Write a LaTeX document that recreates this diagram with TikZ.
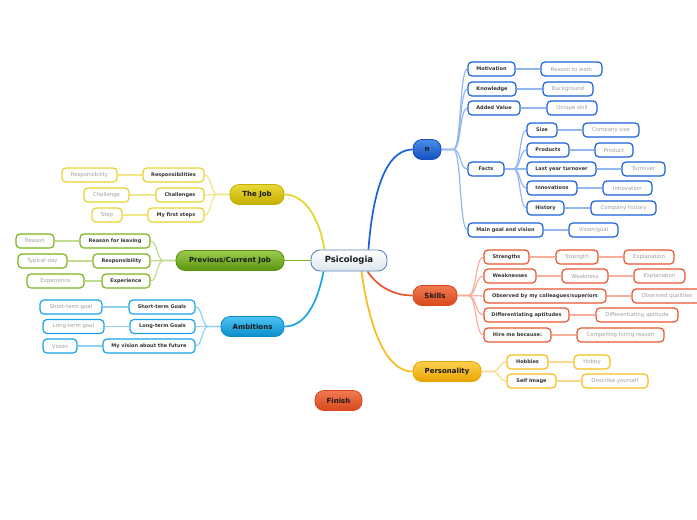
\documentclass[tikz,border=0pt]{standalone}
\usepackage{fontspec}
\setmainfont{DejaVu Sans}
\usetikzlibrary{calc,backgrounds}
\definecolor{txt}{HTML}{333333}
\definecolor{gtxt}{HTML}{A0A0A0}
\definecolor{bl}{HTML}{1A62D8}\definecolor{blc}{HTML}{94B8EE}
\definecolor{rd}{HTML}{E8562E}\definecolor{rdc}{HTML}{F7B09B}
\definecolor{go}{HTML}{F7BD1C}\definecolor{goc}{HTML}{FCD98A}
\definecolor{ye}{HTML}{E6D42C}\definecolor{yec}{HTML}{F0E68C}
\definecolor{gr}{HTML}{7AB51D}\definecolor{grc}{HTML}{C0DC90}
\definecolor{cy}{HTML}{1AA3E8}\definecolor{cyc}{HTML}{90D0F5}
\definecolor{nT}{HTML}{4A8CE8}\definecolor{nB}{HTML}{1550BE}
\definecolor{sT}{HTML}{F07A52}\definecolor{sB}{HTML}{D9481C}
\definecolor{pT}{HTML}{FFD050}\definecolor{pB}{HTML}{E8A400}
\definecolor{jT}{HTML}{E8D838}\definecolor{jB}{HTML}{C4AE00}
\definecolor{cT}{HTML}{9CCC4C}\definecolor{cB}{HTML}{5A9410}
\definecolor{aT}{HTML}{4CC4F4}\definecolor{aB}{HTML}{0C8CCC}
\definecolor{psB}{HTML}{DDE6EE}\definecolor{psD}{HTML}{5B86BD}
\tikzset{
  dk/.style={rectangle, rounded corners=4, line width=1.2, inner sep=0, fill=white, draw=#1,
    minimum height=14, font=\fontsize{5}{5}\selectfont\bfseries, text=txt},
  lt/.style={rectangle, rounded corners=4, line width=1.2, inner sep=0, fill=white, draw=#1,
    minimum height=14, font=\fontsize{5.4}{6}\selectfont, text=gtxt},
  w/.style={minimum width=#1},
  topic/.style 2 args={rectangle, rounded corners=9, inner sep=0, top color=#1, bottom color=#2,
    draw=#2, line width=0.8, minimum height=20, font=\fontsize{7}{8}\selectfont\bfseries, text=black!90},
  cn/.style={draw=#1, line width=1.2},
  mc/.style={draw=#1, line width=1.7},
}
\begin{document}
\begin{tikzpicture}[x=1pt,y=-1pt]
\useasboundingbox (0,0) rectangle (697,520);

% ---------- central ----------
\node[rectangle, rounded corners=9, inner sep=0, top color=white, bottom color=psB,
  draw=psD, line width=0.9, minimum width=76, minimum height=21,
  font=\fontsize{8.5}{9}\selectfont\bfseries, text=black!90] (psi) at (349,260.5) {Psicologia};

% ---------- main topics ----------
\node[topic={nT}{nB}, minimum width=28] (n) at (427,149.5) {n};
\node[topic={sT}{sB}, minimum width=44] (sk) at (435,295.5) {Skills};
\node[topic={pT}{pB}, minimum width=68] (pe) at (447,371.5) {Personality};
\node[topic={sT}{sB}, minimum width=47] (fi) at (338.5,400.5) {Finish};
\node[topic={jT}{jB}, minimum width=54] (tj) at (257,194.5) {The Job};
\node[topic={cT}{cB}, minimum width=108] (pc) at (230,260.5) {Previous/Current Job};
\node[topic={aT}{aB}, minimum width=63] (am) at (252.5,326.5) {Ambitions};

% ---------- n branch ----------
\node[dk=bl, w=47] (mot) at (491.5,69) {Motivation};
\node[lt=bl, w=61] (rtw) at (571.5,69) {Reason to work};
\node[dk=bl, w=48] (kno) at (492,89) {Knowledge};
\node[lt=bl, w=50] (bac) at (568,89) {Background};
\node[dk=bl, w=52] (adv) at (494,108) {Added Value};
\node[lt=bl, w=50] (uni) at (572,108) {Unique skill};
\node[dk=bl, w=36] (fac) at (486,169) {Facts};
\node[dk=bl, w=30] (siz) at (542,130) {Size};
\node[lt=bl, w=56] (csz) at (611,130) {Company size};
\node[dk=bl, w=42] (pro) at (548,150) {Products};
\node[lt=bl, w=38] (prd) at (614,150) {Product};
\node[dk=bl, w=69] (lyt) at (561.5,169) {Last year turnover};
\node[lt=bl, w=43] (tur) at (643.5,169) {Turnover};
\node[dk=bl, w=50] (inn) at (552,188) {Innovations};
\node[lt=bl, w=49] (ino) at (627.5,188) {Innovation};
\node[dk=bl, w=37] (his) at (545.5,208) {History};
\node[lt=bl, w=65] (chi) at (623.5,208) {Company history};
\node[dk=bl, w=75] (mgv) at (505.5,230) {Main goal and vision};
\node[lt=bl, w=49] (vgo) at (593.5,230) {Vision/goal};

% ---------- Skills branch ----------
\node[dk=rd, w=45] (str) at (506.5,257) {Strengths};
\node[lt=rd, w=42] (stg) at (577,257) {Strength};
\node[lt=rd, w=50] (ex1) at (649,257) {Explanation};
\node[dk=rd, w=52] (wea) at (510,276) {Weaknesses};
\node[lt=rd, w=46] (wkn) at (585,276) {Weakness};
\node[lt=rd, w=51] (ex2) at (659.5,276) {Explanation};
\node[dk=rd, w=122] (obs) at (545,296) {Observed by my colleagues/superiors};
\node[lt=rd, w=70] (obq) at (667,296) {Observed qualities};
\node[dk=rd, w=85] (dif) at (526.5,315) {Differentiating aptitudes};
\node[lt=rd, w=82] (dfa) at (637,315) {Differentiating aptitude};
\node[dk=rd, w=67] (hir) at (517.5,335) {Hire me because:};
\node[lt=rd, w=87] (chr) at (620.5,335) {Compelling hiring reason};

% ---------- Personality branch ----------
\node[dk=go, w=41] (hob) at (527.5,362) {Hobbies};
\node[lt=go, w=36] (hby) at (592,362) {Hobby};
\node[dk=go, w=49] (sim) at (531.5,381) {Self Image};
\node[lt=go, w=66] (dsy) at (615,381) {Describe yourself};

% ---------- The Job branch ----------
\node[dk=ye, w=61] (res) at (173.5,175) {Responsibilities};
\node[lt=ye, w=55] (rsp) at (89.5,175) {Responsibility};
\node[dk=ye, w=48] (cha) at (180,195) {Challenges};
\node[lt=ye, w=45] (chl) at (106.5,195) {Challenge};
\node[dk=ye, w=56] (mfs) at (176,215) {My first steps};
\node[lt=ye, w=30] (ste) at (107,215) {Step};

% ---------- Previous branch ----------
\node[dk=gr, w=70] (rfl) at (115,241) {Reason for leaving};
\node[lt=gr, w=38] (rea) at (35,241) {Reason};
\node[dk=gr, w=57] (rpb) at (121.5,261) {Responsibility};
\node[lt=gr, w=49] (tdy) at (42.5,261) {Typical day};
\node[dk=gr, w=48] (exp) at (126,281) {Experience};
\node[lt=gr, w=57] (exg) at (55.5,281) {Experience};

% ---------- Ambitions branch ----------
\node[dk=cy, w=66] (stg2) at (162,307) {Short-term Goals};
\node[lt=cy, w=62] (stl) at (71,307) {Short-term goal};
\node[dk=cy, w=65] (ltg) at (162.5,326.5) {Long-term Goals};
\node[lt=cy, w=61] (ltl) at (73.5,326.5) {Long-term goal};
\node[dk=cy, w=92] (mvf) at (149,346) {My vision about the future};
\node[lt=cy, w=34] (vis) at (60,346) {Vision};

\begin{scope}[on background layer]
\fill[white] (0,0) rectangle (697,520);
% ---------- main connectors ----------
\draw[mc=bl] ([xshift=-19]psi.north east) .. controls (374,175) and (392,149.5) .. (n.west);
\draw[mc=rd] ([xshift=-20]psi.south east) .. controls (380,290) and (398,295.5) .. (sk.west);
\draw[mc=go] ([xshift=-26]psi.south east) .. controls (372,345) and (392,371.5) .. (pe.west);
\draw[mc=ye] ([xshift=14]psi.north west) .. controls (318,212) and (302,194.5) .. (tj.east);
\draw[mc=gr] (psi.west) -- (pc.east);
\draw[mc=cy] ([xshift=13]psi.south west) .. controls (316,310) and (302,326.5) .. (am.east);

% ---------- fans ----------
\foreach \c in {mot,kno,adv,fac,mgv}
  \draw[cn=blc] (n.east) -- ++(12,0) .. controls +(8,0) and +(-8,0) .. (\c.west);
\foreach \c in {siz,pro,lyt,inn,his}
  \draw[cn=blc] (fac.east) -- ++(9,0) .. controls +(7,0) and +(-7,0) .. (\c.west);
\foreach \c in {str,wea,obs,dif,hir}
  \draw[cn=rdc] (sk.east) -- ++(11,0) .. controls +(8,0) and +(-8,0) .. (\c.west);
\foreach \c in {hob,sim}
  \draw[cn=goc] (pe.east) -- ++(11,0) .. controls +(8,0) and +(-8,0) .. (\c.west);
\foreach \c in {res,cha,mfs}
  \draw[cn=yec] (tj.west) -- ++(-12,0) .. controls +(-7,0) and +(7,0) .. (\c.east);
\foreach \c in {rfl,rpb,exp}
  \draw[cn=grc] (pc.west) -- ++(-12,0) .. controls +(-7,0) and +(7,0) .. (\c.east);
\foreach \c in {stg2,ltg,mvf}
  \draw[cn=cyc] (am.west) -- ++(-12,0) .. controls +(-7,0) and +(7,0) .. (\c.east);

% ---------- straight links ----------
\draw[cn=blc] (mot) -- (rtw); \draw[cn=blc] (kno) -- (bac); \draw[cn=blc] (adv) -- (uni);
\draw[cn=blc] (siz) -- (csz); \draw[cn=blc] (pro) -- (prd); \draw[cn=blc] (lyt) -- (tur);
\draw[cn=blc] (inn) -- (ino); \draw[cn=blc] (his) -- (chi); \draw[cn=blc] (mgv) -- (vgo);
\draw[cn=rdc] (str) -- (stg); \draw[cn=rdc] (stg) -- (ex1);
\draw[cn=rdc] (wea) -- (wkn); \draw[cn=rdc] (wkn) -- (ex2);
\draw[cn=rdc] (obs) -- (obq); \draw[cn=rdc] (dif) -- (dfa); \draw[cn=rdc] (hir) -- (chr);
\draw[cn=goc] (hob) -- (hby); \draw[cn=goc] (sim) -- (dsy);
\draw[cn=yec] (res) -- (rsp); \draw[cn=yec] (cha) -- (chl); \draw[cn=yec] (mfs) -- (ste);
\draw[cn=grc] (rfl) -- (rea); \draw[cn=grc] (rpb) -- (tdy); \draw[cn=grc] (exp) -- (exg);
\draw[cn=cyc] (stg2) -- (stl); \draw[cn=cyc] (ltg) -- (ltl); \draw[cn=cyc] (mvf) -- (vis);
\end{scope}
\end{tikzpicture}
\end{document}
